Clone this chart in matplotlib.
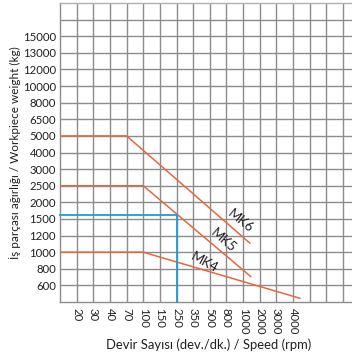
import numpy as np
import matplotlib.pyplot as plt

# tick values (the chart uses an irregular, evenly spaced scale)
x_ticks = [20, 30, 40, 70, 100, 150, 250, 350, 500, 800, 1000, 2000, 3000, 4000]
y_ticks = [600, 800, 1000, 1200, 1500, 2000, 2500, 3000, 4000, 5000, 6500,
           8000, 10000, 12000, 13000, 15000]

# capacity curves: (rpm, kg) kink points, flat part starts at the left edge
mk6_rpm = [70, 1320]
mk6_kg = [5000, 1105]
mk5_rpm = [100, 1370]
mk5_kg = [2500, 700]
mk4_rpm = [100, 4500]
mk4_kg = [1000, 480]

# example reading
ex_rpm = 250
ex_kg = 1600

labels = ["MK6", "MK5", "MK4"]
label_rpm = [960, 725, 441]
label_kg = [1460, 1140, 866]
label_rot = [-39, -41, -29]

orange = "#e5683c"
blue = "#1f9bd7"
grid_c = "#8c8c8c"
text_c = "#231f20"


def make_scale(ticks):
    lt = np.log(np.asarray(ticks, float))
    idx = np.arange(1, len(ticks) + 1, dtype=float)
    s_lo = lt[1] - lt[0]
    s_hi = lt[-1] - lt[-2]

    def fwd(v):
        lv = np.log(np.clip(np.asarray(v, float), 1e-9, None))
        out = np.interp(lv, lt, idx)
        out = np.where(lv < lt[0], 1 + (lv - lt[0]) / s_lo, out)
        out = np.where(lv > lt[-1], idx[-1] + (lv - lt[-1]) / s_hi, out)
        return out

    def inv(p):
        p = np.asarray(p, float)
        lv = np.interp(p, idx, lt)
        lv = np.where(p < 1, lt[0] + (p - 1) * s_lo, lv)
        lv = np.where(p > idx[-1], lt[-1] + (p - idx[-1]) * s_hi, lv)
        return np.exp(lv)

    return fwd, inv


xf, xi = make_scale(x_ticks)
yf, yi = make_scale(y_ticks)

plt.rcParams['font.family'] = ['Lato', 'DejaVu Sans']

fig = plt.figure(figsize=(3.52, 3.58), dpi=100)
ax = fig.add_axes([60 / 352, 56 / 358, 293 / 352, 299 / 358])
ax.set_xscale('function', functions=(xf, xi))
ax.set_yscale('function', functions=(yf, yi))
x0, x1 = float(xi(0)), float(xi(17.6))
y0, y1 = float(yi(0)), float(yi(18.0))
ax.set_xlim(x0, x1)
ax.set_ylim(y0, y1)

ax.set_xticks(x_ticks)
ax.set_xticklabels([str(v) for v in x_ticks], rotation=270, fontsize=8.2, color=text_c)
ax.set_xticks(xi([15, 16, 17]), minor=True)
ax.set_yticks(y_ticks)
ax.set_yticklabels([str(v) for v in y_ticks], fontsize=8.2, color=text_c)
ax.set_yticks(yi([17]), minor=True)
ax.tick_params(which='both', length=0)
ax.tick_params(axis='x', pad=4)
ax.tick_params(axis='y', pad=3)
ax.grid(which='both', color=grid_c, lw=1.0)
ax.set_axisbelow(True)
for s in ['left', 'bottom', 'top']:
    ax.spines[s].set_color(grid_c)
    ax.spines[s].set_linewidth(1.0)
ax.spines['top'].set_color("#b0b0b0")
ax.spines['right'].set_visible(False)

for rpm, kg in [(mk6_rpm, mk6_kg), (mk5_rpm, mk5_kg), (mk4_rpm, mk4_kg)]:
    ax.plot([x0] + rpm, [kg[0]] + kg, color=orange, lw=1.1, zorder=3)

ax.plot([x0, ex_rpm, ex_rpm], [ex_kg, ex_kg, y0], color=blue, lw=1.3, zorder=3,
        clip_on=False)

for t, r, k, rot in zip(labels, label_rpm, label_kg, label_rot):
    ax.text(r, k, t, rotation=rot, ha='center', va='center', fontsize=9.5,
            color=text_c, zorder=4, rotation_mode='anchor')

fig.text(209 / 352, 1 - 345 / 358, "Devir Sayısı (dev./dk.) / Speed (rpm)",
         ha='center', va='center', fontsize=9.4, color=text_c)
fig.text(15 / 352, 1 - 153 / 358, "İş parçası ağırlığı / Workpiece weight (kg)",
         ha='center', va='center', rotation=90, fontsize=8.5, color=text_c,
         family=['Liberation Sans Narrow', 'Lato', 'DejaVu Sans'])

fig.savefig("out.png", dpi=100)
